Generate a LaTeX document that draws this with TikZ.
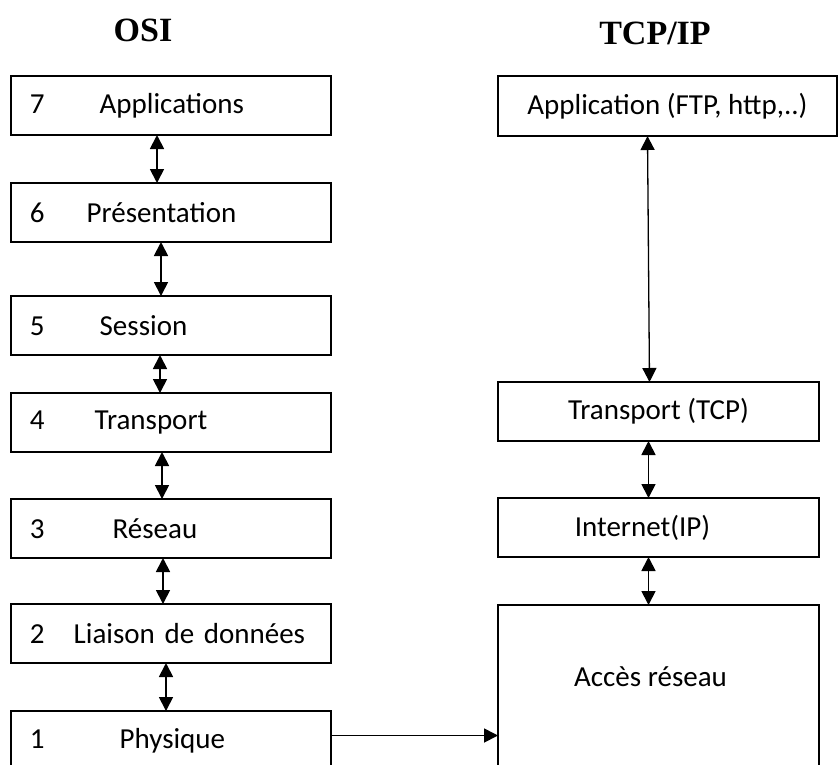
\documentclass[tikz,border=0pt]{standalone}
\usepackage{fontspec}
\setmainfont{Carlito}
\newfontfamily\titlefont{Liberation Serif}
\usetikzlibrary{positioning}
\usetikzlibrary{arrows.meta}
\tikzset{
    x=1pt, y=-1pt,
    title/.style={
        font=\titlefont\bfseries\fontsize{34}{40}\selectfont
    },
    osilayer/.style={
        draw,
        line width=2.2pt,
        outer sep=0pt,
        minimum height=59pt,
        text width=282pt,
        inner xsep=19pt,
        align=left,
        font=\fontsize{29}{34}\selectfont
    },
    tcplayer/.style={
        draw,
        line width=2.2pt,
        outer sep=0pt,
        minimum height=59pt,
        minimum width=321pt,
        align=center,
        font=\fontsize{29}{34}\selectfont
    },
    both/.style={
        {Triangle[length=14pt,width=14pt]}-{Triangle[length=14pt,width=14pt]}
    },
    every edge/.append style={
        draw,
        line width=1.8pt
    }
}

\begin{document}
\begin{tikzpicture}
                \useasboundingbox (0,0) rectangle (839,764);

                \node[title] (osit) at (143,30) {OSI};
                \node[title] (tcpt) at (655,33) {TCP/IP};

                % OSI
                \node[osilayer] (osi7) at (171,105.5) {7\hspace{55pt}Applications};
                \node[osilayer, below=48pt of osi7] (osi6) {6\hspace{42pt}Présentation};
                \node[osilayer, below=54pt of osi6] (osi5) {5\hspace{55pt}Session};
                \node[osilayer, below=38pt of osi5] (osi4) {4\hspace{50pt}Transport};
                \node[osilayer, below=47pt of osi4] (osi3) {3\hspace{68pt}Réseau};
                \node[osilayer, below=46pt of osi3] (osi2) {2\hspace{29pt}Liaison de données};
                \node[osilayer, below=48pt of osi2] (osi1) {1\hspace{75pt}Physique};

                % TCP/IP
                \node[tcplayer, minimum width=339pt, minimum height=60pt] (app) at (667.5,106) {Application (FTP, http,..)};
                \node[tcplayer] (tcp) at (658.5,411.5) {Transport (TCP)};
                \node[tcplayer, below=57pt of tcp] (ip) {Internet(IP)\hspace{32pt}};
                \node[tcplayer, below=48pt of ip, minimum height=166pt, text depth=22pt] (acces) {Accès réseau\hspace{16pt}};

                \draw ([xshift=-14pt]osi7.south) edge[both] ([xshift=-14pt]osi6.north);
                \draw ([xshift=-10pt]osi6.south) edge[both] ([xshift=-10pt]osi5.north);
                \draw ([xshift=-11pt]osi5.south) edge[both] ([xshift=-11pt]osi4.north);
                \draw ([xshift=-9pt]osi4.south) edge[both] ([xshift=-9pt]osi3.north);
                \draw ([xshift=-8pt]osi3.south) edge[both] ([xshift=-8pt]osi2.north);
                \draw ([xshift=-5pt]osi2.south) edge[both] ([xshift=-5pt]osi1.north);

                \draw ([xshift=-20pt]app.south) edge[both, line width=1.3pt] ([xshift=-9pt]tcp.north);
                \draw ([xshift=-10pt]tcp.south) edge[both] ([xshift=-10pt]ip.north);
                \draw ([xshift=-10pt]ip.south) edge[both] ([xshift=-10pt]acces.north);

                \draw ([yshift=5pt]osi1.east) edge[-{Triangle[length=14pt,width=14pt]}] ([yshift=5pt]osi1.east -| acces.west);
            \end{tikzpicture}
\end{document}
